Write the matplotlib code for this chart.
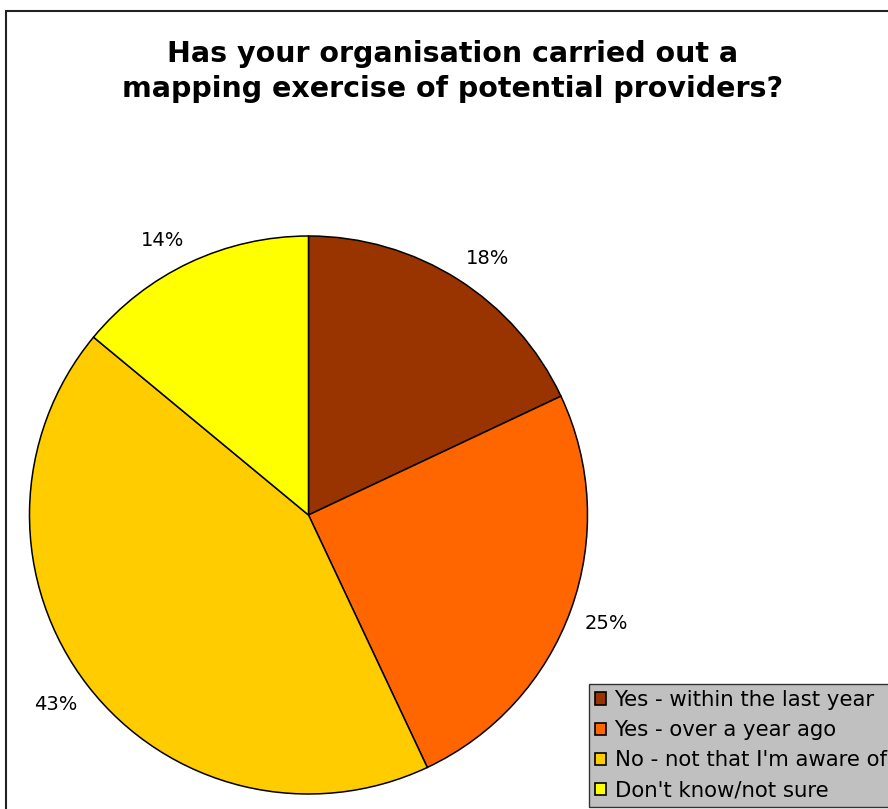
import numpy as np
import matplotlib
matplotlib.use("Agg")
import matplotlib.pyplot as plt
from matplotlib.patches import Rectangle

categories = ["Yes - within the last year", "Yes - over a year ago",
              "No - not that I'm aware of", "Don't know/not sure"]
shares = [18, 25, 43, 14]
colors = ["#993300", "#FF6600", "#FFCC00", "#FFFF00"]
title = "Has your organisation carried out a\nmapping exercise of potential providers?"

W, H = 888, 809
fig = plt.figure(figsize=(W / 100, H / 100), dpi=100)
fig.patch.set_facecolor("white")

# chart-area frame (runs off the right and bottom edges)
fig.patches.append(Rectangle((5.5 / W, -0.05), 1.2, (H - 10.5) / H + 0.05,
                             transform=fig.transFigure, fill=False,
                             edgecolor="#222222", linewidth=1.5))

# pie axes: centre (308.5, 515) px, radius 279 px
cx, cy, r = 308.5, 515.0, 279.0
ax = fig.add_axes([(cx - r) / W, (H - cy - r) / H, 2 * r / W, 2 * r / H])
wedges, _ = ax.pie(shares, colors=colors, startangle=90, counterclock=False,
                   radius=1.0,
                   wedgeprops=dict(edgecolor="black", linewidth=1.1))
ax.set_xlim(-1, 1)
ax.set_ylim(-1, 1)
ax.set_aspect("equal")
ax.axis("off")

# percentage labels placed just outside each wedge, box corner facing the pie
for w, v in zip(wedges, shares):
    ang = np.deg2rad((w.theta1 + w.theta2) / 2)
    x, y = 1.05 * np.cos(ang), 1.05 * np.sin(ang)
    ha = "left" if x >= 0 else "right"
    va = "bottom" if y >= 0 else "top"
    ax.text(x, y, f"{v}%", ha=ha, va=va, fontsize=14,
            family="DejaVu Sans", color="black", clip_on=False)

fig.text(453 / W, 1 - 40 / H, title, ha="center", va="top",
         fontsize=20.5, fontweight="bold", family="DejaVu Sans",
         linespacing=1.3)

handles = [Rectangle((0, 0), 1, 1, facecolor=c, edgecolor="black", linewidth=1.2)
           for c in colors]
leg = fig.legend(handles, categories, loc="lower left",
                 bbox_to_anchor=(589 / W, 2 / H, 0.5, 0.0),
                 mode="expand", frameon=True, fancybox=False,
                 prop=dict(family="DejaVu Sans", size=15.3),
                 handlelength=0.5, handleheight=0.5, handletextpad=0.4,
                 labelspacing=0.48, borderpad=0.3, borderaxespad=0.0)
leg.get_frame().set_facecolor("#C0C0C0")
leg.get_frame().set_edgecolor("#333333")
leg.get_frame().set_linewidth(1.0)
leg.get_frame().set_alpha(1)

fig.savefig("out.png", dpi=100, facecolor="white")
